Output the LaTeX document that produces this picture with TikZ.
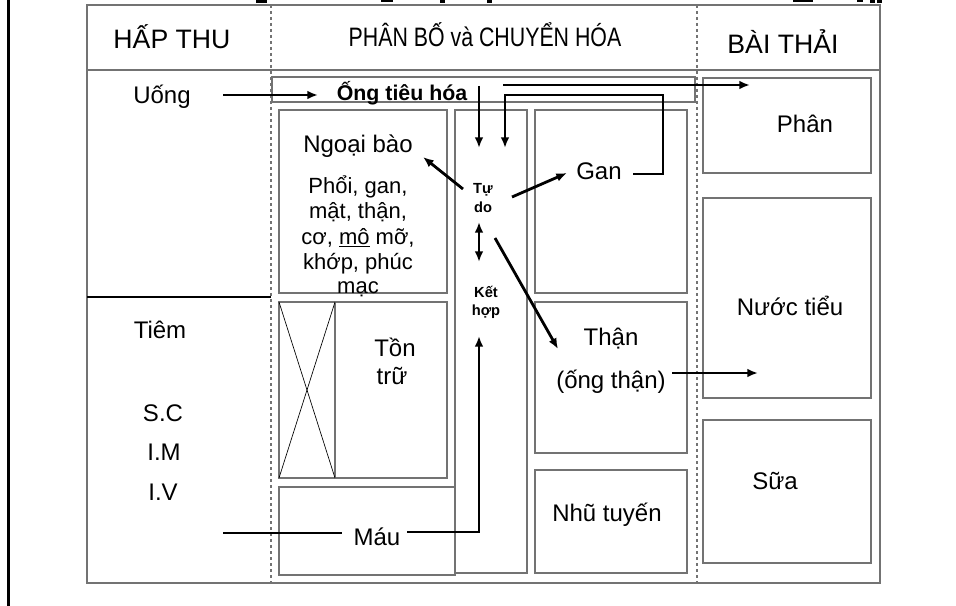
\documentclass[tikz,border=0pt]{standalone}
\usepackage{graphicx}
\usepackage{fontspec}
\setmainfont{Liberation Sans}
\usetikzlibrary{arrows.meta}
\definecolor{boxgray}{gray}{0.45}
\begin{document}
\begin{tikzpicture}[x=0.75pt,y=-0.75pt,
  box/.style={draw=boxgray,line width=1pt},
  dashline/.style={draw=boxgray,line width=0.9pt,dash pattern=on 2.5pt off 2pt},
  arr/.style={line width=2.1pt,-{Latex[length=8pt,width=6.5pt]}},
  dblarr/.style={line width=2.1pt,{Latex[length=8pt,width=6.5pt]}-{Latex[length=8pt,width=6.5pt]}},
  plain/.style={line width=2.1pt},
  txt/.style={font=\fontsize{18}{21}\selectfont,inner sep=0pt,anchor=base},
  lst/.style={font=\fontsize{16.5}{19}\selectfont,inner sep=0pt,anchor=base},
  hdr/.style={font=\fontsize{20}{24}\selectfont,inner sep=0pt,anchor=base},
  sml/.style={font=\bfseries\fontsize{11}{13}\selectfont,inner sep=0pt,anchor=base},
]
\useasboundingbox (0,0) rectangle (956,606);
% cut-off title remnants and left rule
\fill (256,0) rectangle (267,3);
\fill (381,0) rectangle (393,2);
\fill (440,0) rectangle (445,3);
\fill (487,0) rectangle (492,3);
\fill (793,0) rectangle (813,2);
\fill (857,0) rectangle (863,2);
\fill (870,0) rectangle (875,3);
\fill (877,0) rectangle (882,3);
\draw[line width=2.2pt] (8.5,0) -- (8.5,606);
% table frame
\draw[box] (87,5) rectangle (880,583);
\draw[box] (87,70) -- (880,70);
\draw[dashline] (271,5) -- (271,583);
\draw[dashline] (697,5) -- (697,583);
\draw[line width=0.8pt] (87,297) -- (271,297);
% inner boxes
\draw[box] (272,77) rectangle (695,102);
\draw[box] (279,110) rectangle (447,293);
\draw[box] (455,110) rectangle (527,573);
\draw[box] (535,110) rectangle (687,293);
\draw[box] (279,302) rectangle (447,478);
\draw[box] (335,302) -- (335,478);
\draw[line width=0.5pt] (279,302) -- (335,478);
\draw[line width=0.5pt] (335,302) -- (279,478);
\draw[box] (279,487) rectangle (455,575);
\draw[box] (535,302) rectangle (687,453);
\draw[box] (535,470) rectangle (687,573);
\draw[box] (703,78) rectangle (871,173);
\draw[box] (703,198) rectangle (871,398);
\draw[box] (703,420) rectangle (871,563);
% headers
\node[hdr] (hapthu) at (172,49) {HẤP THU};
\node[hdr] (phanbo) at (485,47) {\scalebox{0.8}[1]{PHÂN BỐ và CHUYỂN HÓA}};
\node[hdr] (baithai) at (783,54) {BÀI THẢI};
% left column
\node[txt] (uong) at (162,104) {Uống};
\node[txt] (tiem) at (160,338) {Tiêm};
\node[txt] (sc) at (163,421) {S.C};
\node[txt] (im) at (164,460) {I.M};
\node[txt] (iv) at (163,500) {I.V};
% middle
\node[font=\bfseries\fontsize{16}{19}\selectfont,inner sep=0pt,anchor=base] (ong) at (402,101) {Ống tiêu hóa};
\node[txt] (ngoai) at (358,153) {Ngoại bào};
\node[lst] (l1) at (358,193) {Phổi, gan,};
\node[lst] (l2) at (358,219) {mật, thận,};
\node[lst] (l3) at (358,244) {cơ, \underline{mô} mỡ,};
\node[lst] (l4) at (358,269) {khớp, phúc};
\node[lst] (l5) at (358,293) {mạc};
\node[sml] (tu) at (483,194) {Tự};
\node[sml] (do) at (483,212) {do};
\node[sml] (ket) at (486,297) {Kết};
\node[sml] (hop) at (486,315) {hợp};
\node[txt] (gan) at (599,180) {Gan};
\node[txt] (ton) at (395,356) {Tồn};
\node[txt] (tru) at (392,384) {trữ};
\node[txt] (than) at (611,345) {Thận};
\node[txt] (ongthan) at (611,388) {(ống thận)};
\node[txt] (nhu) at (607,521) {Nhũ tuyến};
\node[txt] (mau) at (377,545) {Máu};
% right
\node[txt] (phan) at (805,133) {Phân};
\node[txt] (nuoc) at (790,315) {Nước tiểu};
\node[txt] (sua) at (775,489) {Sữa};
% connector points
\coordinate (uA) at (223,95);
\coordinate (uB) at (318,95);
\coordinate (oA) at (479,86);
\coordinate (oB) at (479,148);
\coordinate (pA) at (503,85);
\coordinate (pB) at (750,85);
\coordinate (gA) at (633,174);
\coordinate (gB) at (663,174);
\coordinate (gC) at (663,95);
\coordinate (gD) at (505,95);
\coordinate (gE) at (505,148);
\coordinate (tA) at (463,189);
\coordinate (tB) at (423,157);
\coordinate (tC) at (512,197);
\coordinate (tD) at (567,173);
\coordinate (tE) at (495,238);
\coordinate (tF) at (558,349);
\coordinate (dA) at (479,222);
\coordinate (dB) at (479,262);
\coordinate (mA) at (223,533);
\coordinate (mB) at (342,533);
\coordinate (mC) at (407,532);
\coordinate (mD) at (479,532);
\coordinate (mE) at (479,336);
\coordinate (nA) at (672,373);
\coordinate (nB) at (758,373);
% connectors
\draw[arr] (uA) -- (uB);
\draw[arr] (oA) -- (oB);
\draw[arr] (pA) -- (pB);
\draw[arr] (gA) -- (gB) -- (gC) -- (gD) -- (gE);
\draw[arr] (tA) -- (tB);
\draw[arr] (tC) -- (tD);
\draw[arr] (tE) -- (tF);
\draw[dblarr] (dA) -- (dB);
\draw[plain] (mA) -- (mB);
\draw[arr] (mC) -- (mD) -- (mE);
\draw[arr] (nA) -- (nB);
\end{tikzpicture}
\end{document}
